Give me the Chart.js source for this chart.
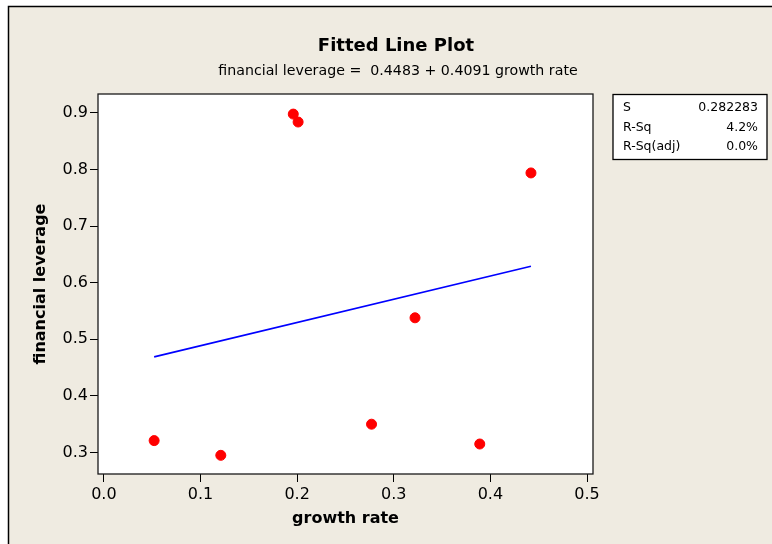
<!DOCTYPE html>
<html>
<head>
<meta charset="utf-8">
<title>Fitted Line Plot</title>
<script src="https://cdn.jsdelivr.net/npm/chart.js@4.4.0/dist/chart.umd.min.js"></script>
<style>
  body { margin: 0; background: #fff; }
  canvas { display: block; }
</style>
</head>
<body>
<canvas id="fitChart" width="772" height="544"></canvas>
<script>
// data
var growthRate = [0.052, 0.121, 0.196, 0.201, 0.277, 0.322, 0.389, 0.442];
var leverage = [0.321, 0.295, 0.898, 0.884, 0.350, 0.538, 0.315, 0.794];
var fitGrowth = [0.052, 0.442];
var fitLeverage = [0.469, 0.629];
var statLabels = ["S", "R-Sq", "R-Sq(adj)"];
var statValues = ["0.282283", "4.2%", "0.0%"];
var chartTitle = "Fitted Line Plot";
var chartSubtitle = "financial leverage =  0.4483 + 0.4091 growth rate";
var xTitle = "growth rate";
var yTitle = "financial leverage";

var fontFamily = "'DejaVu Sans', 'Liberation Sans', sans-serif";

function toPoints(xs, ys) {
    return xs.map(function (x, i) { return { x: x, y: ys[i] }; });
}

var framePlugin = {
    id: "frame",
    beforeDraw: function (chart) {
        var ctx = chart.ctx;
        var a = chart.chartArea;
        ctx.save();
        ctx.fillStyle = "#fff";
        ctx.fillRect(0, 0, chart.width, chart.height);
        // beige graph region
        ctx.fillStyle = "#efebe1";
        ctx.fillRect(8, 6, chart.width - 8, chart.height - 6);
        ctx.strokeStyle = "#000";
        ctx.lineWidth = 1.5;
        ctx.beginPath();
        ctx.moveTo(8.5, chart.height);
        ctx.lineTo(8.5, 6.5);
        ctx.lineTo(chart.width, 6.5);
        ctx.stroke();
        // white data region
        ctx.fillStyle = "#fff";
        ctx.fillRect(a.left, a.top, a.right - a.left, a.bottom - a.top);
        ctx.restore();
    },
    afterDraw: function (chart) {
        var ctx = chart.ctx;
        var a = chart.chartArea;
        ctx.save();
        ctx.strokeStyle = "#1a1a1a";
        ctx.lineWidth = 1.3;
        ctx.strokeRect(a.left, a.top, a.right - a.left, a.bottom - a.top);

        // titles
        ctx.fillStyle = "#000";
        ctx.textAlign = "center";
        ctx.textBaseline = "middle";
        ctx.font = "bold 18px " + fontFamily;
        ctx.fillText(chartTitle, 396, 46);
        ctx.font = "14.2px " + fontFamily;
        ctx.fillText(chartSubtitle, 398, 71);

        // stats box
        var bx = 613, by = 94.5, bw = 154, bh = 65;
        ctx.fillStyle = "#fff";
        ctx.fillRect(bx, by, bw, bh);
        ctx.strokeStyle = "#000";
        ctx.lineWidth = 1.3;
        ctx.strokeRect(bx, by, bw, bh);
        ctx.fillStyle = "#000";
        ctx.font = "12.5px " + fontFamily;
        statLabels.forEach(function (label, i) {
            var y = 108 + i * 19.5;
            ctx.textAlign = "left";
            ctx.fillText(label, 623, y);
            ctx.textAlign = "right";
            ctx.fillText(statValues[i], 758, y);
        });
        ctx.restore();
    }
};

var tickFont = { family: fontFamily, size: 16 };
var titleFont = { family: fontFamily, size: 16, weight: "bold" };

new Chart(document.getElementById("fitChart").getContext("2d"), {
    type: "scatter",
    data: {
        datasets: [
            {
                label: "observations",
                data: toPoints(growthRate, leverage),
                backgroundColor: "#ff0000",
                borderColor: "#ff0000",
                pointRadius: 5,
                pointHoverRadius: 5,
            },
            {
                type: "line",
                label: "fit",
                data: toPoints(fitGrowth, fitLeverage),
                borderColor: "#0000ff",
                borderWidth: 1.6,
                pointRadius: 0,
                fill: false,
            },
        ],
    },
    options: {
        responsive: false,
        animation: false,
        layout: { padding: { left: 0, top: 94, right: 179, bottom: 0 } },
        plugins: {
            legend: { display: false },
            tooltip: { enabled: false },
        },
        scales: {
            x: {
                type: "linear",
                min: -0.0061,
                max: 0.5062,
                afterFit: function (scale) { scale.height = 70; },
                border: { display: false },
                grid: { drawOnChartArea: false, drawTicks: true, tickLength: 8, color: "#000", lineWidth: 1 },
                ticks: {
                    stepSize: 0.1,
                    includeBounds: false,
                    color: "#000",
                    font: tickFont,
                    padding: 3,
                    maxRotation: 0,
                    callback: function (v) { return v.toFixed(1); },
                },
                title: { display: true, text: xTitle, color: "#000", font: titleFont, padding: { top: 0, bottom: 15.4 } },
            },
            y: {
                type: "linear",
                min: 0.262,
                max: 0.9335,
                afterFit: function (scale) { scale.width = 98; },
                border: { display: false },
                grid: { drawOnChartArea: false, drawTicks: true, tickLength: 8, color: "#000", lineWidth: 1 },
                ticks: {
                    stepSize: 0.1,
                    includeBounds: false,
                    color: "#000",
                    font: tickFont,
                    padding: 2,
                    callback: function (v) { return v.toFixed(1); },
                },
                title: { display: true, text: yTitle, color: "#000", font: titleFont, padding: { top: 31.4, bottom: 0 } },
            },
        },
    },
    plugins: [framePlugin],
});
</script>
</body>
</html>
